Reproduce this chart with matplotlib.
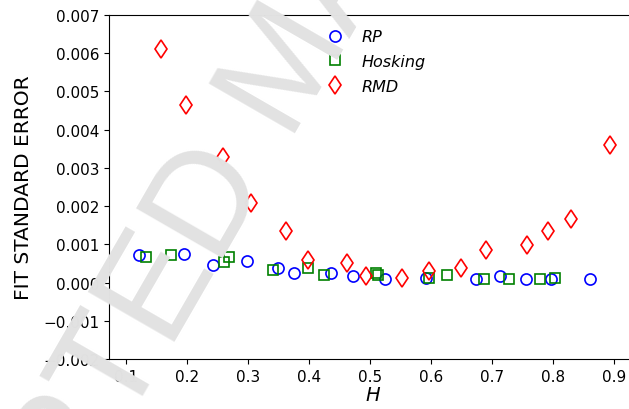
import numpy as np
import matplotlib.pyplot as plt

# Fit standard error vs Hurst exponent for three fGn generators
h_rp = [0.121, 0.195, 0.243, 0.298, 0.349, 0.375, 0.436, 0.472, 0.525,
        0.592, 0.674, 0.713, 0.756, 0.797, 0.861]
se_rp = [0.00073, 0.00076, 0.00047, 0.00056, 0.00039, 0.00024, 0.00026, 0.00016, 0.00010,
         0.00011, 0.00008, 0.00016, 0.00010, 0.00008, 0.00010]

h_hosking = [0.133, 0.174, 0.261, 0.269, 0.341, 0.398, 0.425, 0.510, 0.513,
             0.597, 0.626, 0.687, 0.728, 0.779, 0.803]
se_hosking = [0.00068, 0.00073, 0.00055, 0.00068, 0.00032, 0.00039, 0.00021, 0.00024, 0.00021,
              0.00013, 0.00021, 0.00010, 0.00010, 0.00008, 0.00011]

h_rmd = [0.157, 0.198, 0.259, 0.305, 0.362, 0.398, 0.462, 0.493, 0.552,
         0.597, 0.649, 0.690, 0.757, 0.792, 0.830, 0.893]
se_rmd = [0.00612, 0.00465, 0.00328, 0.00207, 0.00134, 0.00058, 0.00050, 0.00018, 0.00011,
          0.00029, 0.00039, 0.00084, 0.00097, 0.00136, 0.00165, 0.00360]

x_ticks = [0.1, 0.2, 0.3, 0.4, 0.5, 0.6, 0.7, 0.8, 0.9]
y_ticks = [-0.002, -0.001, 0.0, 0.001, 0.002, 0.003, 0.004, 0.005, 0.006, 0.007]

W, H = 629, 410
fig = plt.figure(figsize=(W / 100, H / 100), dpi=100)
ax = fig.add_axes([109 / W, 50 / H, 528 / W, 344 / H])

ax.plot(h_rp, se_rp, "o", mfc="none", mec="blue", ms=8, mew=1.2, ls="none", label="RP")
ax.plot(h_hosking, se_hosking, "s", mfc="none", mec="green", ms=7.5, mew=1.2, ls="none", label="Hosking")
ax.plot(h_rmd, se_rmd, "d", mfc="none", mec="red", ms=9.5, mew=1.2, ls="none", label="RMD")

ax.set_xlim(0.072, 0.938)
ax.set_ylim(-0.002, 0.007)
ax.set_xticks(x_ticks)
ax.set_yticks(y_ticks)
ax.set_xticklabels([f"{t:.1f}" for t in x_ticks])
ax.set_yticklabels([f"{t:.3f}".replace("-", "\u2212") for t in y_ticks])
ax.tick_params(labelsize=11)

ax.set_xlabel("H", fontsize=14, style="italic", labelpad=1)
ax.set_ylabel("FIT STANDARD ERROR", fontsize=14.5, labelpad=7)

ax.legend(loc="upper left", bbox_to_anchor=(0.37, 1.0), frameon=False,
          prop={"style": "italic", "size": 11.5}, handletextpad=0.7, labelspacing=0.6)

# watermark, positioned off the "D" of ACCEPTED
wm_font, wm_size, wm_rot = "Liberation Sans", 104, 60
renderer = fig.canvas.get_renderer()
tmp = fig.text(0, 0, "ACCEPTED", fontsize=wm_size, family=wm_font)
w_pre = tmp.get_window_extent(renderer).width
tmp.set_text("D")
w_pre -= tmp.get_window_extent(renderer).width
tmp.remove()
d_x, d_y = 218, 268  # pixels from top-left, tuned against the scan
ang = np.deg2rad(wm_rot)
sx = d_x - w_pre * np.cos(ang)
sy = d_y + w_pre * np.sin(ang)
fig.text(sx / W, 1 - sy / H, "ACCEPTED MANUSCRIPT", rotation=wm_rot, ha="left", va="baseline",
         fontsize=wm_size, family=wm_font, color="#e2e2e2", zorder=10, rotation_mode="anchor")

fig.savefig("out.png", dpi=100)
